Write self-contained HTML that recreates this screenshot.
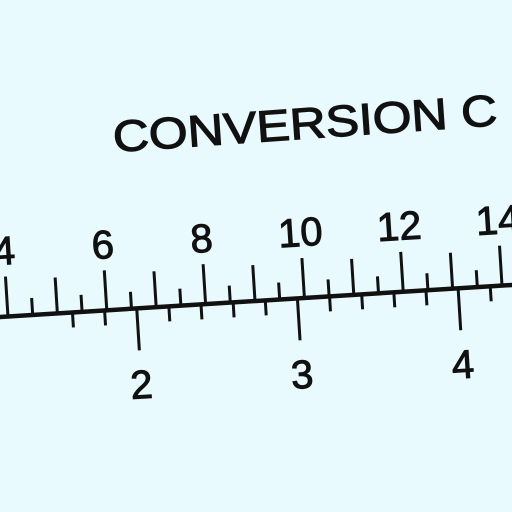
<!DOCTYPE html>
<html><head><meta charset="utf-8"><style>
html,body{margin:0;padding:0;background:#e8fafd;}
svg{display:block;font-family:"Liberation Sans",sans-serif;}
</style></head><body>
<svg id="c" width="512" height="512" viewBox="0 0 512 512">
<rect width="512" height="512" fill="#e8fafd"/>
<text x="114" y="152" font-size="44" textLength="385" lengthAdjust="spacingAndGlyphs" transform="rotate(-4 114 152)" fill="#111" stroke="#111" stroke-width="1.2">CONVERSION C</text>
<g id="scale" transform="rotate(-3.58 0 317)"></g>
</svg>
<script>
const upperTicks = [3.5,4,4.5,5,5.5,6,6.5,7,7.5,8,8.5,9,9.5,10,10.5,11,11.5,12,12.5,13,13.5,14,14.5];
const upperLabels = [4,6,8,10,12,14];
const lowerTicks = [1.6,1.8,2,2.2,2.4,2.6,2.8,3,3.2,3.4,3.6,3.8,4,4.2];
const lowerLabels = [2,3,4];
const NS="http://www.w3.org/2000/svg";
const g=document.getElementById('scale');
const Y=317;
function xu(v){return 8+(v-4)*49.5;}
function xl(v){return 137+(v-2)*161;}
function mk(t,a){const e=document.createElementNS(NS,t);for(const k in a)e.setAttribute(k,a[k]);g.appendChild(e);return e;}
const base=mk('line',{x1:-10,y1:Y,x2:530,y2:Y,stroke:'#111','stroke-width':4.5});


upperTicks.forEach(v=>{
  const x=xu(v);
  if(x<-5||x>520)return;
  let len;
  if(v%2===0)len=40;else if(Number.isInteger(v))len=36;else len=17;
  const t=mk('line',{x1:x,y1:Y,x2:x,y2:Y-len,stroke:'#111','stroke-width':3});
  
  
});
upperLabels.forEach(v=>{
  const t=mk('text',{x:xu(v),y:Y-52,'font-size':40,'text-anchor':'middle',fill:'#111',stroke:'#111','stroke-width':1});
  t.textContent=v;
  
  
});
lowerTicks.forEach(v=>{
  const x=xl(v);
  if(x<-5||x>520)return;
  const r=Math.round(v*10);
  const len=(r%10===0)?42:15;
  const t=mk('line',{x1:x,y1:Y,x2:x,y2:Y+len,stroke:'#111','stroke-width':3});
  
  
});
lowerLabels.forEach(v=>{
  const t=mk('text',{x:xl(v),y:Y+90,'font-size':40,'text-anchor':'middle',fill:'#111',stroke:'#111','stroke-width':1});
  t.textContent=v;
  
  
});
</script>
</body></html>
